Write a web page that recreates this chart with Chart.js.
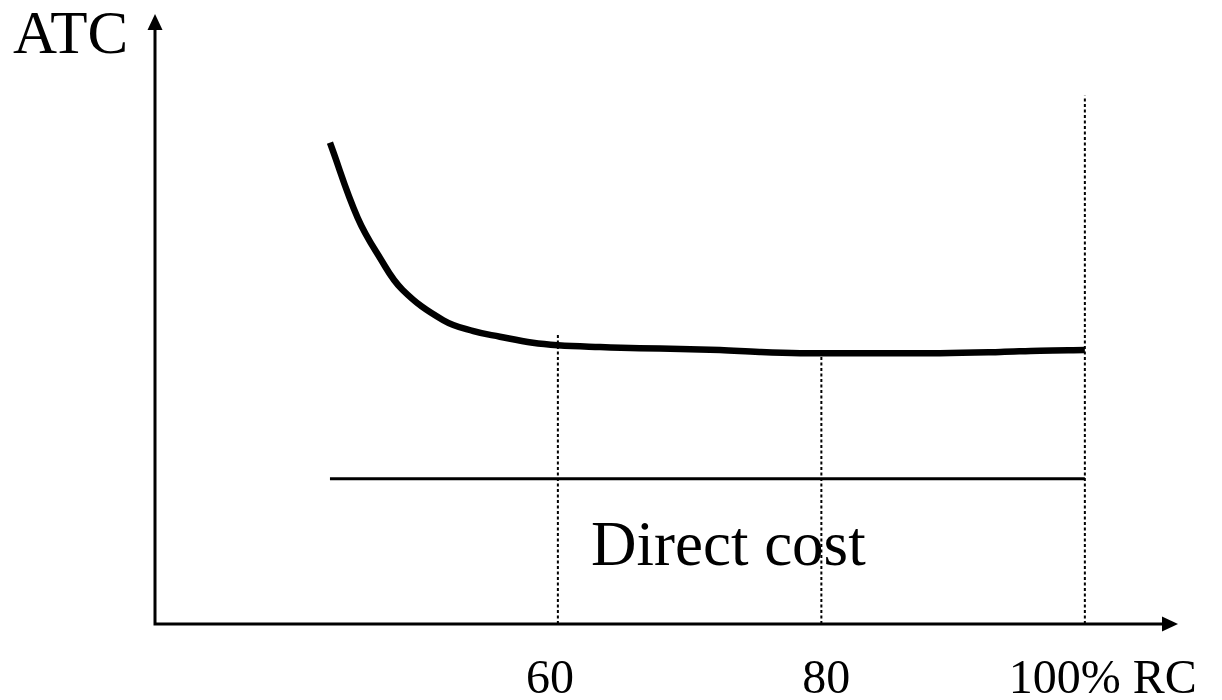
<!DOCTYPE html>
<html>
<head>
<meta charset="utf-8">
<script src="https://cdn.jsdelivr.net/npm/chart.js@4/dist/chart.umd.min.js"></script>
<style>
  html, body { margin: 0; padding: 0; background: #fff; }
  #wrap { width: 1222px; height: 700px; }
</style>
</head>
<body>
<div id="wrap"><canvas id="chart"></canvas></div>
<script>
"use strict";

// capacity utilisation (% of RC) and average total cost
const atcX = [42.7, 44.8, 46.5, 48.2, 51.3, 53.6, 55.6, 58.1, 60, 63.2, 66.2, 69.3, 72.3, 75.3, 78.4, 80.7, 84.5, 89.0, 93.6, 96.6, 100];
const atcY = [78.9, 66.6, 60.0, 54.8, 49.8, 48.0, 47.1, 46.1, 45.7, 45.4, 45.2, 45.1, 44.9, 44.6, 44.4, 44.4, 44.4, 44.4, 44.6, 44.8, 44.9];

const directCostX = [42.7, 100];
const directCostY = [23.8, 23.8];

// dotted guides: x position and top of each guide
const guideX = [60, 80, 100];
const guideTop = [47.7, 43.9, 86.6];

const tickValues = [60, 80, 100];
const tickLabels = ["60", "80", "100% RC"];

const SERIF = "'Liberation Serif', 'Times New Roman', serif";

const toPoints = (xs, ys) => xs.map((x, i) => ({ x: x, y: ys[i] }));

const datasets = [
  {
    data: toPoints(atcX, atcY),
    borderColor: "#000",
    borderWidth: 6.5,
    tension: 0.4,
    pointRadius: 0,
    borderCapStyle: "butt"
  },
  {
    data: toPoints(directCostX, directCostY),
    borderColor: "#000",
    borderWidth: 3,
    pointRadius: 0
  }
];

guideX.forEach((gx, i) => {
  datasets.push({
    data: [{ x: gx, y: 0 }, { x: gx, y: guideTop[i] }],
    borderColor: "#000",
    borderWidth: 2,
    borderDash: [3, 2.5],
    pointRadius: 0
  });
});

// axes with arrow heads + text labels
const sketchAxes = {
  id: "sketchAxes",
  afterDatasetsDraw(chart) {
    const { ctx, chartArea: a, scales } = chart;
    const x0 = a.left, y0 = a.bottom;
    ctx.save();
    ctx.strokeStyle = "#000";
    ctx.fillStyle = "#000";
    ctx.lineWidth = 3;

    ctx.beginPath();
    ctx.moveTo(x0, y0);
    ctx.lineTo(x0, a.top + 14);
    ctx.moveTo(x0 - 1.5, y0);
    ctx.lineTo(a.right - 14, y0);
    ctx.stroke();

    // arrow heads
    ctx.beginPath();
    ctx.moveTo(x0, a.top);
    ctx.lineTo(x0 - 7.5, a.top + 16);
    ctx.lineTo(x0 + 7.5, a.top + 16);
    ctx.closePath();
    ctx.fill();

    ctx.beginPath();
    ctx.moveTo(a.right, y0);
    ctx.lineTo(a.right - 16, y0 - 7.5);
    ctx.lineTo(a.right - 16, y0 + 7.5);
    ctx.closePath();
    ctx.fill();

    // axis title
    ctx.textBaseline = "alphabetic";
    ctx.textAlign = "left";
    ctx.font = "61px " + SERIF;
    ctx.fillText("ATC", 13, 53);

    // x tick labels
    ctx.font = "48px " + SERIF;
    const shift = [-8, 5];
    tickValues.forEach((v, i) => {
      const px = scales.x.getPixelForValue(v);
      if (i === tickValues.length - 1) {
        ctx.textAlign = "left";
        ctx.fillText(tickLabels[i], px - 76, 693);
      } else {
        ctx.textAlign = "center";
        ctx.fillText(tickLabels[i], px + shift[i], 693);
      }
    });

    // direct cost label
    ctx.font = "63px " + SERIF;
    ctx.textAlign = "left";
    ctx.fillText("Direct cost", 591, 565);

    ctx.restore();
  }
};

new Chart(document.getElementById("chart"), {
  type: "line",
  data: { datasets: datasets },
  options: {
    responsive: true,
    maintainAspectRatio: false,
    animation: false,
    clip: false,
    layout: { padding: { left: 155, top: 14, right: 44, bottom: 76 } },
    plugins: {
      legend: { display: false },
      tooltip: { enabled: false }
    },
    scales: {
      x: { type: "linear", min: 29.42, max: 107.07, display: false },
      y: { type: "linear", min: 0, max: 100, display: false }
    }
  },
  plugins: [sketchAxes]
});
</script>
</body>
</html>
